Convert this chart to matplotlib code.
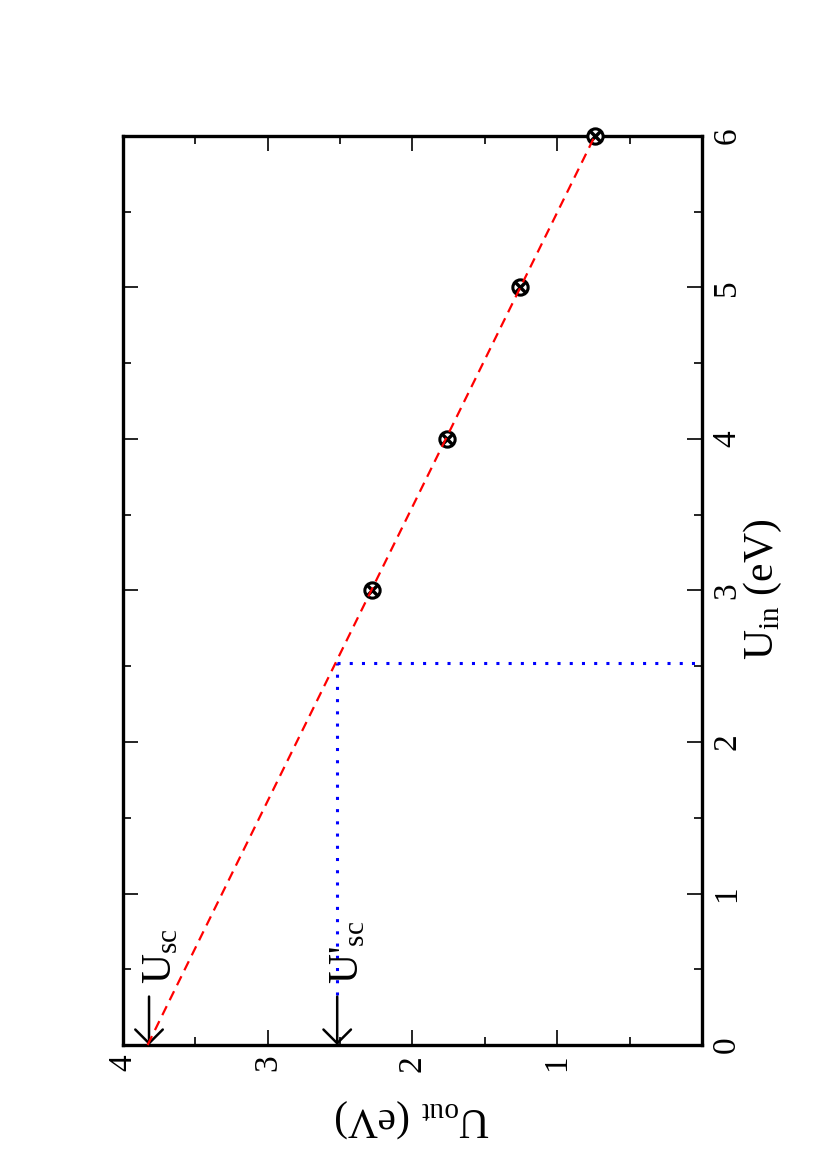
import matplotlib
matplotlib.use('Agg')
import matplotlib.pyplot as plt
from matplotlib.ticker import MultipleLocator

plt.rcParams['font.family'] = ['Liberation Serif', 'DejaVu Serif']
plt.rcParams['mathtext.fontset'] = 'custom'
plt.rcParams['mathtext.rm'] = 'Liberation Serif'

# data (page is rotated: U_in runs upward, U_out runs leftward)
u_in_pts = [3, 4, 5, 6]
u_out_pts = [2.28, 1.76, 1.26, 0.74]
u_in_fit = [0, 6]
u_out_fit = [3.83, 0.74]
u_sc = 3.82
u_sc_prime = 2.52
u_in_cross = 2.52

fig = plt.figure(figsize=(8.27, 11.70), dpi=100)
ax = fig.add_axes([0.1487, 0.1068, 0.7001, 0.7770])

# red dashed fit line and the data points
ax.plot(u_out_fit, u_in_fit, color='red', lw=1.6, ls=(0, (4.5, 3)), zorder=4,
        clip_on=False)
ax.plot(u_out_pts, u_in_pts, ls='none', marker='o', ms=11, mfc='white',
        mec='black', mew=2.2, zorder=3, clip_on=False)
ax.plot(u_out_pts, u_in_pts, ls='none', marker='x', ms=7, mec='black',
        mew=2.5, zorder=3, clip_on=False)

# blue dotted construction lines
ax.plot([u_sc_prime, 0], [u_in_cross, u_in_cross], color='blue', lw=2.2,
        ls=(0, (1, 3)), zorder=2)
ax.plot([u_sc_prime, u_sc_prime], [0.33, u_in_cross], color='blue', lw=2.2,
        ls=(0, (1, 3)), zorder=2)

# arrows marking U_sc and U'_sc
arrow = dict(arrowstyle='->, head_length=0.45, head_width=0.45', lw=1.8,
             color='black', shrinkA=0, shrinkB=0, mutation_scale=22)
ax.annotate('', xy=(u_sc, 0.0), xytext=(u_sc, 0.32), arrowprops=arrow)
ax.annotate('', xy=(u_sc_prime, 0.0), xytext=(u_sc_prime, 0.32), arrowprops=arrow)
ax.text(3.74, 0.40, r'U$_\mathregular{sc}$', rotation=90, fontsize=30,
        ha='center', va='bottom')
ax.text(2.45, 0.40, r"U'$_\mathregular{sc}$", rotation=90, fontsize=30,
        ha='center', va='bottom')

ax.set_xlim(4, 0)
ax.set_ylim(0, 6)
ax.xaxis.set_major_locator(MultipleLocator(1))
ax.xaxis.set_minor_locator(MultipleLocator(0.5))
ax.yaxis.set_major_locator(MultipleLocator(1))
ax.yaxis.set_minor_locator(MultipleLocator(0.5))
ax.set_xticks([4, 3, 2, 1])
ax.set_xticklabels(['4', '3', '2', '1'])

ax.tick_params(which='both', direction='in', top=True, bottom=True,
               left=True, right=True, labelleft=False, labelright=True,
               labelsize=24, width=1.2)
ax.tick_params(which='major', length=11, pad=7)
ax.tick_params(which='minor', length=5.5)
for lab in ax.get_xticklabels() + ax.get_yticklabels():
    lab.set_rotation(90)
    lab.set_verticalalignment('center')
for lab in ax.get_xticklabels():
    lab.set_verticalalignment('top')
for s in ax.spines.values():
    s.set_linewidth(2.4)

fig.text(0.9226, 0.496, r'U$_\mathregular{in}$ (eV)', rotation=90,
         fontsize=30, ha='center', va='center')
fig.text(0.498, 0.0444, r'U$_\mathregular{out}$ (eV)', rotation=180,
         fontsize=30, ha='center', va='center')

fig.savefig('out.png', dpi=100)
